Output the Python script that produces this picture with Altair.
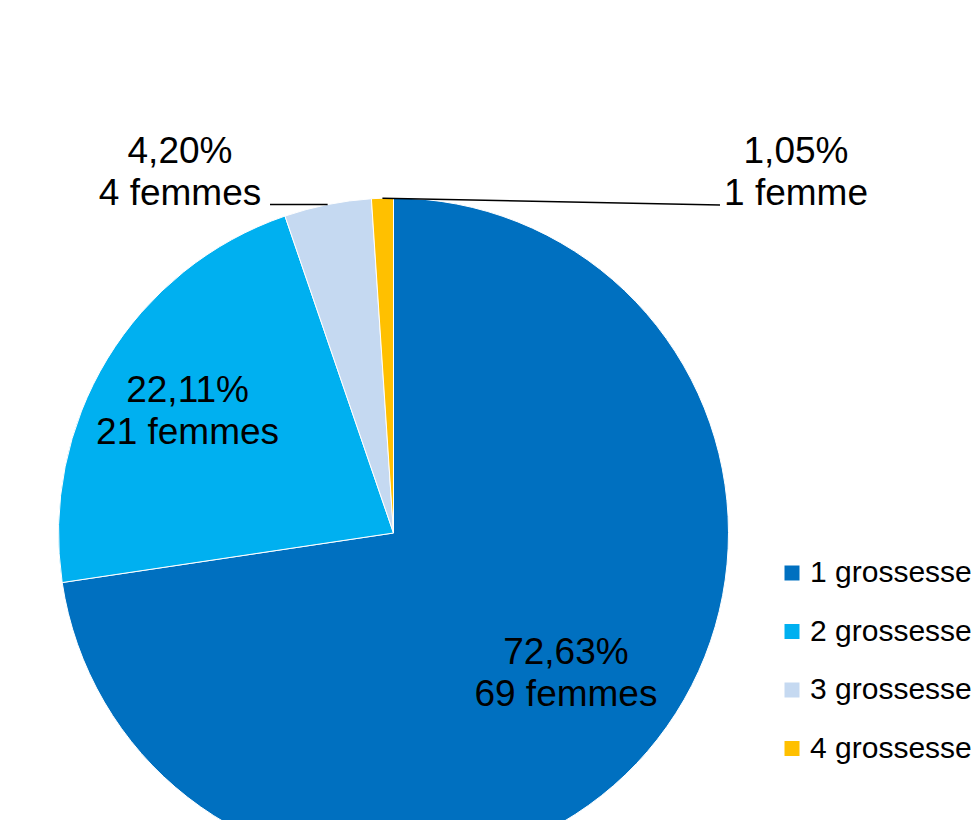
import math
import altair as alt
import pandas as pd

# ---- data ----
categories = ["1 grossesse", "2 grossesse", "3 grossesse", "4 grossesse"]
percents = [72.63, 22.11, 4.20, 1.05]
counts = [69, 21, 4, 1]
colors = ["#0070C0", "#00B0F0", "#C5D9F1", "#FFC000"]

# ---- layout ----
W, H = 964, 812
CX, CY, R = 385.5, 525, 335
FONT = "Liberation Sans"
FS = 37
LH = 42


def fmt_label(p, n):
    return f"{p:.2f}".replace(".", ",") + "%\n" + f"{n} femme" + ("s" if n > 1 else "")


df = pd.DataFrame({
    "cat": categories,
    "pct": percents,
    "n": counts,
    "idx": list(range(1, len(categories) + 1)),
    "label": [fmt_label(p, n) for p, n in zip(percents, counts)],
})
total = sum(percents)

color = alt.Color(
    "cat:N",
    scale=alt.Scale(domain=categories, range=colors),
    sort=categories,
    legend=alt.Legend(
        title=None,
        orient="none",
        legendX=769,
        legendY=550,
        symbolType="square",
        symbolSize=225,
        symbolStrokeWidth=0,
        labelFont=FONT,
        labelFontSize=30,
        labelColor="black",
        labelOffset=3,
        rowPadding=28.5,
        labelLimit=400,
    ),
)

pie = alt.Chart(df).mark_arc(outerRadius=R, stroke="white", strokeWidth=1).encode(
    theta=alt.Theta("pct:Q", stack=True),
    order=alt.Order("idx:Q"),
    color=color,
    x=alt.value(CX),
    y=alt.value(CY),
)

# inner labels: placed at the slice mid-angle
lab_base = alt.Chart(df).transform_window(
    cum="sum(pct)", sort=[alt.SortField("idx")]
).transform_calculate(
    mid="datum.cum - datum.pct / 2"
)


def inner_label(i, radius, dx=0, dy=0):
    return lab_base.transform_filter(alt.datum.idx == i).mark_text(
        radius=radius, font=FONT, fontSize=FS, lineBreak="\n", lineHeight=LH,
        color="black", align="center", baseline="middle", dy=-LH / 2 + dy, dx=dx,
    ).encode(
        theta=alt.Theta("mid:Q", scale=alt.Scale(domain=[0, total]), stack=None),
        text="label:N",
        x=alt.value(CX),
        y=alt.value(CY),
    )


lab1 = inner_label(1, 221, dx=5, dy=-3)
lab2 = inner_label(2, 241, dy=4)


# outer labels with leader lines, derived from the slice mid-angles
def edge_point(i):
    cum = sum(percents[:i])
    a = (cum + percents[i] / 2) / total * 2 * math.pi
    return CX + R * math.sin(a), CY - R * math.cos(a)


ex3, ey3 = edge_point(2)
ex4, ey4 = edge_point(3)

lines = pd.DataFrame({
    "x": [ex3, ex4],
    "y": [ey3, ey4],
    "x2": [262, 712],
    "y2": [ey3, 197],
})
leader = alt.Chart(lines).mark_rule(color="black", strokeWidth=1.4).encode(
    x=alt.X("x:Q", scale=alt.Scale(domain=[0, W], range=[0, W]), axis=None),
    y=alt.Y("y:Q", scale=alt.Scale(domain=[0, H], range=[0, H]), axis=None),
    x2="x2:Q",
    y2="y2:Q",
)

outer = pd.DataFrame({
    "label": [fmt_label(percents[2], counts[2]), fmt_label(percents[3], counts[3])],
    "x": [172, 788],
    "y": [165, 165],
})
outer_text = alt.Chart(outer).mark_text(
    font=FONT, fontSize=FS, lineBreak="\n", lineHeight=LH, color="black",
    align="center", baseline="middle", dy=-LH / 2,
).encode(
    x=alt.X("x:Q", scale=alt.Scale(domain=[0, W], range=[0, W]), axis=None),
    y=alt.Y("y:Q", scale=alt.Scale(domain=[0, H], range=[0, H]), axis=None),
    text="label:N",
)

chart = alt.layer(pie, lab1, lab2, leader, outer_text).properties(
    width=W, height=H, padding=0, autosize=alt.AutoSizeParams(type="none"),
).resolve_scale(theta="independent").configure(background="white").configure_view(stroke=None)

chart.save("out.html", embed_options={"renderer": "svg", "actions": False})
